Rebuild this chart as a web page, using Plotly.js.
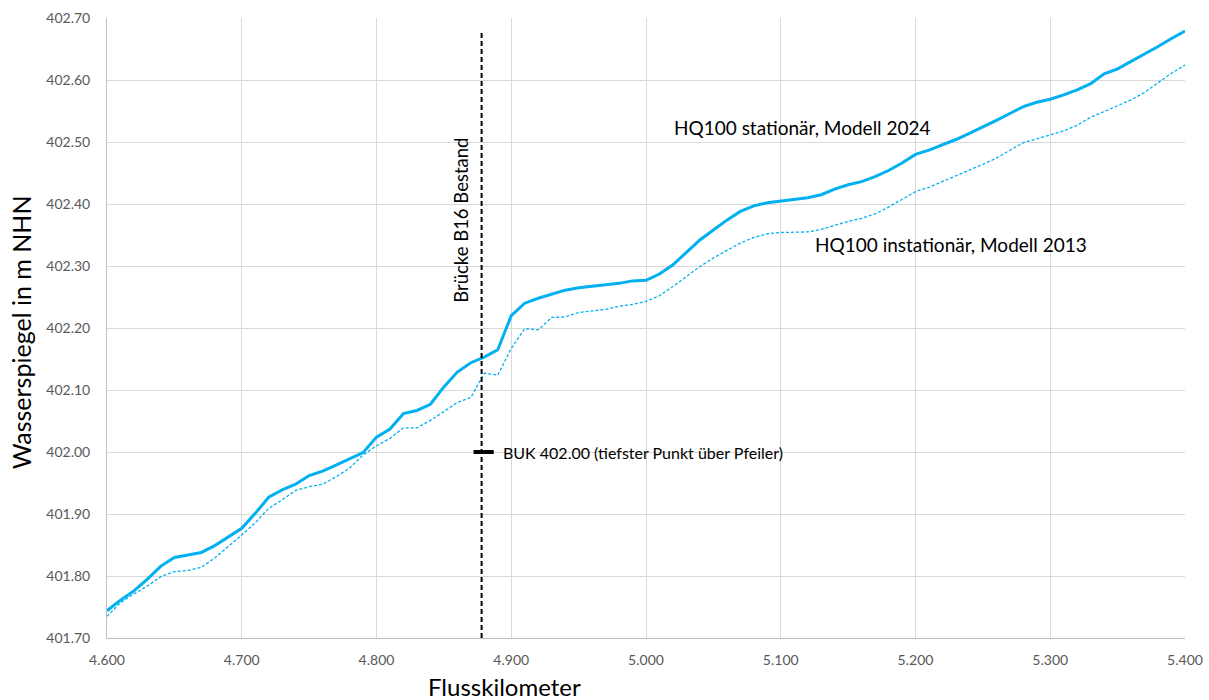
<!DOCTYPE html>
<html>
<head>
<meta charset="utf-8">
<script src="https://cdn.plot.ly/plotly-3.0.1.min.js"></script>
<style>html,body{margin:0;padding:0;background:#fff;}#chart{width:1209px;height:700px;}</style>
</head>
<body>
<div id="chart"></div>
<script>
const km = [4.60,4.61,4.62,4.63,4.64,4.65,4.66,4.67,4.68,4.69,
4.70,4.71,4.72,4.73,4.74,4.75,4.76,4.77,4.78,4.79,
4.80,4.81,4.82,4.83,4.84,4.85,4.86,4.87,4.88,4.89,
4.90,4.91,4.92,4.93,4.94,4.95,4.96,4.97,4.98,4.99,
5.00,5.01,5.02,5.03,5.04,5.05,5.06,5.07,5.08,5.09,
5.10,5.11,5.12,5.13,5.14,5.15,5.16,5.17,5.18,5.19,
5.20,5.21,5.22,5.23,5.24,5.25,5.26,5.27,5.28,5.29,
5.30,5.31,5.32,5.33,5.34,5.35,5.36,5.37,5.38,5.39,5.40];

const hq2024 = [401.744,401.761,401.776,401.795,401.816,401.830,401.834,401.838,401.849,401.863,
401.877,401.901,401.927,401.939,401.948,401.962,401.969,401.979,401.989,401.999,
402.024,402.037,402.062,402.067,402.077,402.105,402.129,402.144,402.153,402.165,
402.220,402.240,402.248,402.255,402.261,402.265,402.267,402.269,402.272,402.276,
402.277,402.287,402.302,402.322,402.342,402.358,402.374,402.388,402.397,402.402,
402.405,402.408,402.410,402.415,402.424,402.431,402.436,402.444,402.454,402.466,
402.480,402.487,402.495,402.504,402.514,402.524,402.535,402.546,402.557,402.564,
402.569,402.576,402.584,402.594,402.610,402.618,402.630,402.641,402.654,402.667,402.679];

const hq2013 = [401.735,401.757,401.771,401.784,401.799,401.807,401.809,401.814,401.829,401.847,
401.866,401.886,401.909,401.923,401.938,401.944,401.948,401.960,401.974,401.995,
402.010,402.022,402.039,402.039,402.051,402.065,402.080,402.088,402.127,402.124,
402.167,402.199,402.197,402.217,402.218,402.225,402.227,402.230,402.235,402.238,
402.243,402.252,402.267,402.283,402.299,402.313,402.325,402.337,402.346,402.352,
402.354,402.355,402.355,402.359,402.366,402.372,402.377,402.384,402.395,402.407,
402.420,402.427,402.436,402.445,402.455,402.464,402.474,402.486,402.499,402.505,
402.511,402.518,402.527,402.540,402.549,402.558,402.568,402.580,402.596,402.611,402.624];

const bridgeKm = [4.878, 4.878];
const bridgeLevel = [401.70, 402.677];
const bukKm = [4.872, 4.887];
const bukLevel = [402.00, 402.00];

const labelStationaer = "HQ100 stationär, Modell 2024";
const labelInstationaer = "HQ100 instationär, Modell 2013";
const labelBridge = "Brücke B16 Bestand";
const labelBuk = "BUK 402.00 (tiefster Punkt über Pfeiler)";
const xTitle = "Flusskilometer";
const yTitle = "Wasserspiegel in m NHN";

const FONT = "Lato, 'Open Sans', sans-serif";
const blue = "#00b0f0";

const traces = [
  {x: km, y: hq2013, mode: "lines", line: {color: blue, width: 1.3, dash: "3px,2px"}, name: labelInstationaer},
  {x: km, y: hq2024, mode: "lines", line: {color: blue, width: 3}, name: labelStationaer},
  {x: bridgeKm, y: bridgeLevel, mode: "lines", line: {color: "#000", width: 2, dash: "5px,3px"}},
  {x: bukKm, y: bukLevel, mode: "lines", line: {color: "#000", width: 4}}
];

const layout = {
  width: 1209, height: 700,
  margin: {l: 107, r: 24, t: 18, b: 62},
  paper_bgcolor: "#fff", plot_bgcolor: "#fff",
  showlegend: false,
  font: {family: FONT, color: "#595959"},
  xaxis: {
    range: [4.6, 5.4], dtick: 0.1, tick0: 4.6, tickformat: ".3f",
    showgrid: true, gridcolor: "#d9d9d9", gridwidth: 1,
    showline: true, linecolor: "#bfbfbf", linewidth: 1, zeroline: false,
    ticks: "", ticklabelstandoff: 9, tickfont: {size: 14, color: "#595959", family: FONT}
  },
  yaxis: {
    range: [401.7, 402.7], dtick: 0.1, tick0: 401.7, tickformat: ".2f",
    showgrid: true, gridcolor: "#d9d9d9", gridwidth: 1,
    showline: true, linecolor: "#bfbfbf", linewidth: 1, zeroline: false,
    ticks: "", ticklabelstandoff: 13, tickfont: {size: 14, color: "#595959", family: FONT}
  },
  annotations: [
    {xref: "paper", yref: "paper", x: 0.369, y: -0.079, xanchor: "center", yanchor: "middle", showarrow: false,
     text: xTitle, font: {size: 24, color: "#000", family: FONT}},
    {xref: "paper", yref: "paper", x: -0.079, y: 0.493, xanchor: "center", yanchor: "middle", showarrow: false,
     textangle: -90, text: yTitle, font: {size: 25, color: "#000", family: FONT}},
    {xref: "x", yref: "y", x: 4.8625, y: 402.374, showarrow: false, textangle: -90,
     text: labelBridge, font: {size: 18.5, color: "#000", family: FONT}},
    {xref: "x", yref: "y", x: 4.8925, y: 402.0, xanchor: "left", showarrow: false,
     text: labelBuk, font: {size: 16, color: "#000", family: FONT}},
    {xref: "x", yref: "y", x: 5.1158, y: 402.523, xanchor: "center", showarrow: false,
     text: labelStationaer, font: {size: 19, color: "#000", family: FONT}},
    {xref: "x", yref: "y", x: 5.2264, y: 402.334, xanchor: "center", showarrow: false,
     text: labelInstationaer, font: {size: 19, color: "#000", family: FONT}}
  ]
};

Plotly.newPlot("chart", traces, layout, {displayModeBar: false, staticPlot: true});
</script>
</body>
</html>
